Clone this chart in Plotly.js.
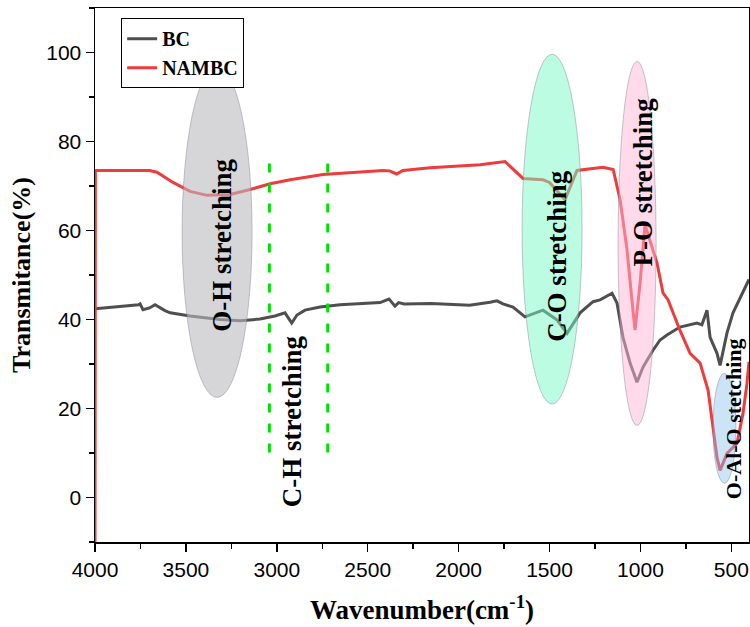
<!DOCTYPE html>
<html>
<head>
<meta charset="utf-8">
<script src="https://cdn.plot.ly/plotly-3.0.1.min.js"></script>
<style>html,body{margin:0;padding:0;background:#fff;}#chart{width:750px;height:627px;}</style>
</head>
<body>
<div id="chart"></div>
<script>
// Wavenumber (cm-1) and transmittance (%)
const bcWavenumber = [4000,3850,3760,3752,3736,3700,3670,3615,3587,3477,3312,3202,3092,3010,2955,2918,2889,2845,2762,2652,2432,2383,2350,2330,2300,2150,1992,1940,1827,1789,1756,1701,1635,1536,1459,1404,1332,1261,1222,1156,1129,1096,1057,1019,986,931,892,854,783,689,662,634,617,579,562,524,491,436,403];
const bcT = [42.4,42.9,43.3,43.5,42.2,42.6,43.3,42.0,41.5,40.8,40.0,39.7,40.1,40.8,41.5,39.2,41.0,42.1,42.8,43.3,43.8,44.6,43.0,43.8,43.5,43.6,43.3,43.2,43.9,44.2,43.5,42.8,40.6,42.1,39.9,36.9,41.5,44.0,44.4,45.9,43.7,36.0,30.2,25.9,29.3,33.1,35.4,36.5,38.3,39.2,38.8,42.1,36.0,32.4,29.7,37.0,41.5,46.0,49.0];

const nambcWavenumber = [4000,3998,3700,3659,3571,3477,3384,3257,3147,3037,2927,2746,2416,2380,2341,2306,2157,2009,1882,1745,1662,1646,1536,1500,1415,1349,1206,1150,1112,1074,1047,1030,1002,975,909,876,848,783,727,672,628,601,579,562,524,469,436,414,403];
const nambcT = [-15,73.5,73.5,73.1,70.8,68.8,67.9,68.1,69.2,70.5,71.4,72.6,73.5,73.4,72.7,73.5,74.1,74.4,74.8,75.5,72.2,71.7,71.4,70.8,66.9,73.5,74.2,73.7,66.9,55.7,44.4,37.6,48.2,61.3,52.7,46.0,44.4,37.6,32.4,30.2,24.1,15.1,9.0,6.1,9.9,12.2,18.9,25.7,30.5];

const seriesNames = ["BC","NAMBC"];
const bandLabels = ["O-H stretching","C-H stretching","C-O stretching","P-O stretching","O-Al-O stetching"];
const bandLabelX = [3301,2917,1459,986,491];
const bandLabelY = [56.6,17.1,54.3,70.8,17.6];
const bandFontSize = [27,27,27,27,22];
// ellipses: [x0,x1,y0,y1]
const ellipseX0 = [3521,1651,1123,601];
const ellipseX1 = [3136,1321,914,475];
const ellipseY0 = [22.5,21.0,16.2,3.2];
const ellipseY1 = [96.9,99.6,98.0,27.9];
const ellipseFill = ["rgba(187,187,190,0.6)","rgba(120,250,200,0.5)","rgba(255,182,213,0.5)","rgba(140,195,240,0.45)"];
const chLinesX = [3041,2720];
const chLinesY = [10.1,75.3];

const serif = "Liberation Serif, Times New Roman, serif";
const sans = "Liberation Sans, Arial, sans-serif";

const traces = [
  {x: bcWavenumber, y: bcT, name: seriesNames[0], type: "scatter", mode: "lines",
   line: {color: "#4f4f4f", width: 3}},
  {x: nambcWavenumber, y: nambcT, name: seriesNames[1], type: "scatter", mode: "lines",
   line: {color: "#ee3b3b", width: 3}}
];

const shapes = [];
for (let i = 0; i < ellipseX0.length; i++) {
  shapes.push({type: "circle", xref: "x", yref: "y", x0: ellipseX0[i], x1: ellipseX1[i],
    y0: ellipseY0[i], y1: ellipseY1[i], fillcolor: ellipseFill[i], layer: "above",
    line: {color: "rgba(120,120,140,0.6)", width: 0.7}});
}
for (const xv of chLinesX) {
  shapes.push({type: "line", xref: "x", yref: "y", x0: xv, x1: xv, y0: chLinesY[0], y1: chLinesY[1],
    layer: "above", line: {color: "#00e000", width: 3, dash: "9px,11px"}});
}

const annotations = bandLabels.map((t, i) => ({
  x: bandLabelX[i], y: bandLabelY[i], xref: "x", yref: "y", text: "<b>" + t + "</b>",
  showarrow: false, textangle: -90, font: {family: serif, size: bandFontSize[i], color: "#000"}
}));

const layout = {
  width: 750, height: 627,
  margin: {l: 95, r: 1, t: 8, b: 85},
  paper_bgcolor: "#fff", plot_bgcolor: "#fff",
  showlegend: true,
  legend: {x: 0.04, y: 0.981, xanchor: "left", yanchor: "top", bgcolor: "#fff",
    bordercolor: "#000", borderwidth: 1, font: {family: serif, size: 20, color: "#000", weight: "bold"},
    tracegroupgap: 0},
  xaxis: {range: [4000, 403], showgrid: false, zeroline: false, showline: true, mirror: true,
    linecolor: "#000", linewidth: 1.5, ticks: "outside", ticklen: 8, tickwidth: 1.5, tickcolor: "#000",
    dtick: 500, tick0: 0, tickfont: {family: sans, size: 21, color: "#000"},
    minor: {dtick: 250, ticks: "outside", ticklen: 5, tickwidth: 1.5, tickcolor: "#000"},
    title: {text: "<b>Wavenumber(cm<sup>-1</sup>)</b>", font: {family: serif, size: 27, color: "#000"}, standoff: 20}},
  yaxis: {range: [-10, 110], showgrid: false, zeroline: false, showline: true, mirror: true,
    linecolor: "#000", linewidth: 1.5, ticks: "outside", ticklen: 8, tickwidth: 1.5, tickcolor: "#000",
    dtick: 20, tick0: 0, tickfont: {family: sans, size: 21, color: "#000"},
    minor: {dtick: 10, ticks: "outside", ticklen: 5, tickwidth: 1.5, tickcolor: "#000"},
    title: {text: "<b>Transmitance(%)</b>", font: {family: serif, size: 26, color: "#000"}, standoff: 8}},
  shapes: shapes,
  annotations: annotations
};

Plotly.newPlot("chart", traces, layout, {displayModeBar: false, staticPlot: true});
</script>
</body>
</html>
